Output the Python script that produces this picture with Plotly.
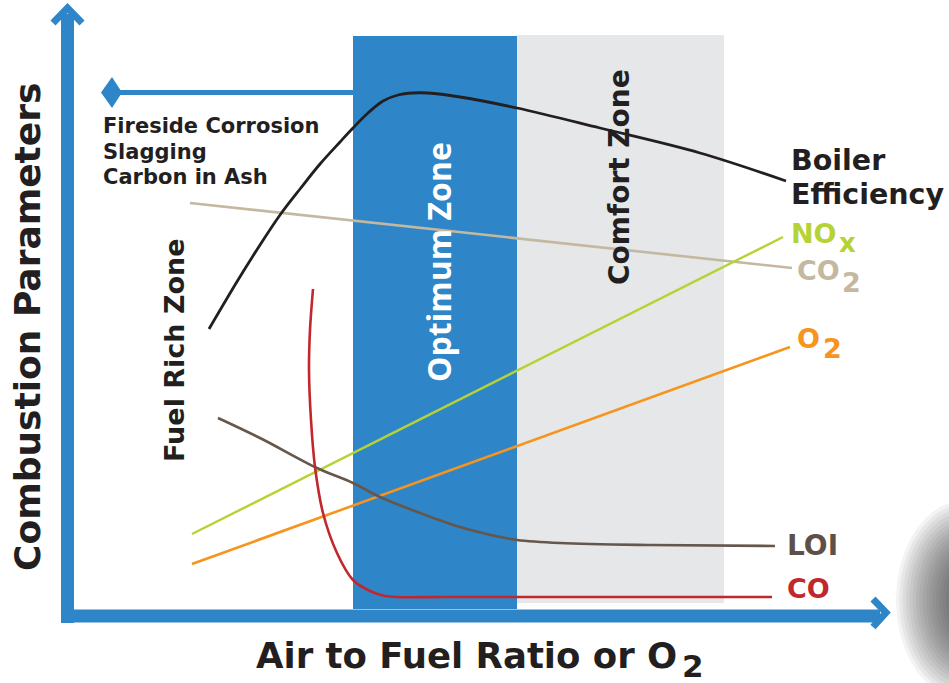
import plotly.graph_objects as go

# ---- data (in picture units: x right, y down) ----
eff_x = [209, 238, 260, 280, 300, 320, 340, 353, 368, 383, 398, 413, 428, 460, 517, 600, 700, 786]
eff_y = [329, 280, 245, 215, 189, 164, 142, 128, 113, 101, 95, 93, 93, 97, 108, 128, 153, 181]

co2_x = [190, 792]
co2_y = [203, 268]

nox_x = [192, 783]
nox_y = [534, 237]

o2_x = [192, 790]
o2_y = [564, 347]

loi_x = [218, 260, 317, 353, 380, 420, 460, 500, 517, 560, 650, 775]
loi_y = [418, 438, 468, 483, 497, 513, 527, 537, 540, 543, 545, 546]

co_x = [313, 310, 309, 311, 315, 323, 337, 353, 370, 385, 450, 772]
co_y = [289, 330, 370, 420, 467, 513, 553, 580, 591, 596, 597, 597]

optimum_zone = [353, 517]   # x extent
comfort_zone = [517, 724]

BLUE = "#2e86c8"
FONT = "DejaVu Sans"
INK = "#231f20"

fig = go.Figure()

def curve(x, y, color, width=2.6, spline=True):
    fig.add_trace(go.Scatter(
        x=x, y=y, mode="lines",
        line=dict(color=color, width=width, shape="spline" if spline else "linear", smoothing=1.0),
        hoverinfo="skip", showlegend=False))

# faint blurred object at bottom-right edge
n = 18
for i in range(n):
    f = 1 - i / n
    rx, ry = 10 + 60 * f, 28 + 72 * f
    fig.add_shape(type="circle", x0=966 - rx, x1=966 + rx, y0=600 - ry, y1=600 + ry,
                  fillcolor="#333333", opacity=0.06, line_width=0, layer="below")

# zones
fig.add_shape(type="rect", x0=comfort_zone[0], x1=comfort_zone[1], y0=35, y1=603,
              fillcolor="#e6e7e9", line_width=0, layer="below")
fig.add_shape(type="rect", x0=optimum_zone[0], x1=optimum_zone[1], y0=36, y1=609,
              fillcolor=BLUE, line_width=0, layer="below")

def txt(x, y, s, size, color=INK, angle=0, xa="left", ya="middle", family=FONT):
    fig.add_annotation(x=x, y=y, text=s, showarrow=False, textangle=angle,
                       xanchor=xa, yanchor=ya, align="left", borderpad=0,
                       font=dict(family=family, size=size, color=color))

# zone labels
txt(438, 262, "<b>Optimum Zone</b>", 32, color="white", angle=-90, xa="center", family="Open Sans")
txt(619, 177, "<b>Comfort Zone</b>", 28, angle=-90, xa="center")

# curves
curve(co2_x, co2_y, "#c4b8a0", 2.6, False)
curve(nox_x, nox_y, "#b5d334", 2.4, False)
curve(o2_x, o2_y, "#f7941d", 2.6, False)
curve(loi_x, loi_y, "#65574c", 2.6)
curve(co_x, co_y, "#c1272d", 2.6)
curve(eff_x, eff_y, INK, 2.8)

# axes (blue arrows)
fig.add_shape(type="line", x0=67.5, x1=67.5, y0=14, y1=623, line=dict(color=BLUE, width=13))
fig.add_shape(type="line", x0=61, x1=880, y0=616, y1=616, line=dict(color=BLUE, width=13))
fig.add_shape(type="path", path="M 53 23 L 67.5 8 L 82 23", line=dict(color=BLUE, width=7))
fig.add_shape(type="path", path="M 873 599 L 886 612.5 L 873 627", line=dict(color=BLUE, width=7))

# arrow to the left
fig.add_shape(type="line", x0=115, x1=353, y0=92.5, y1=92.5, line=dict(color=BLUE, width=5))
fig.add_shape(type="path", path="M 101 92.5 L 112 77 L 122 92.5 L 112 108 Z",
              fillcolor=BLUE, line_width=0)

# titles
txt(27, 327, "<b>Combustion Parameters</b>", 36, angle=-90, xa="center")
txt(678, 655, "<b>Air to Fuel Ratio or O</b>", 35.5, xa="right")
txt(681, 666, "<b>2</b>", 31)

# notes
for i, line in enumerate(["Fireside Corrosion", "Slagging", "Carbon in Ash"]):
    txt(102, 126 + 25.5 * i, "<b>%s</b>" % line, 21)
txt(174, 350, "<b>Fuel Rich Zone</b>", 27, angle=-90, xa="center")

# series labels
txt(790, 160, "<b>Boiler</b>", 28.5)
txt(790, 194, "<b>Efficiency</b>", 28.5)
txt(790, 233, "<b>NO</b>", 27, color="#b5d334")
txt(838, 243, "<b>x</b>", 26, color="#b5d334")
txt(796, 270, "<b>CO</b>", 27, color="#c4b8a0")
txt(841, 282, "<b>2</b>", 27, color="#c4b8a0")
txt(796, 338, "<b>O</b>", 27, color="#f7941d")
txt(822, 348, "<b>2</b>", 27, color="#f7941d")
txt(786, 545, "<b>LOI</b>", 28, color="#5e5047")
txt(786, 588, "<b>CO</b>", 27, color="#c1272d")

fig.update_layout(
    width=949, height=683,
    margin=dict(l=0, r=0, t=0, b=0),
    paper_bgcolor="white", plot_bgcolor="white",
    xaxis=dict(range=[0, 949], visible=False, fixedrange=True),
    yaxis=dict(range=[683, 0], visible=False, fixedrange=True),
    showlegend=False,
)

fig.write_html("out.html", config={"displayModeBar": False},
               post_script="document.body.style.margin='0';document.body.style.overflow='hidden';")
